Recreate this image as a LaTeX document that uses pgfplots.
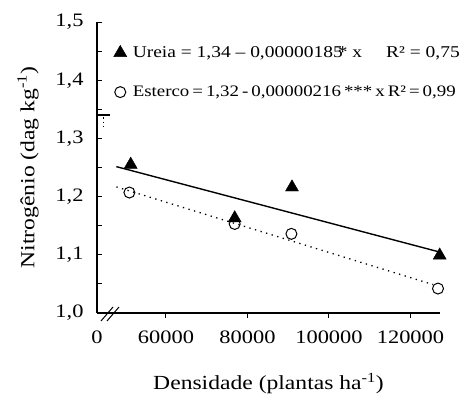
\documentclass[border=0pt]{standalone}
\usepackage{fontspec}
\setmainfont{Liberation Serif}[FakeStretch=1.18]
\usepackage{pgfplots}
\pgfplotsset{compat=1.18}

\begin{document}
\begin{tikzpicture}
\begin{axis}[
  name=ax,
  scale only axis, width=343pt, height=291pt,
  xmin=43070, xmax=127240, ymin=1, ymax=1.5,
  axis lines*=left,
  axis line style={line width=1.2pt},
  clip=false,
  font=\fontsize{19}{22}\selectfont,
  /pgf/number format/assume math mode=true,
  /pgf/number format/1000 sep={},
  scaled x ticks=false,
  xtick={60000,80000,100000,120000},
  extra x ticks={43070}, extra x tick labels={0},
  extra x tick style={major tick length=0pt},
  ytick={1,1.1,1.2,1.3,1.4,1.5}, minor y tick num=1,
  yticklabel style={/pgf/number format/use comma, /pgf/number format/fixed,
    /pgf/number format/fixed zerofill, /pgf/number format/precision=1, xshift=-10pt},
  tick align=inside,
  major tick length=5pt, minor tick length=5pt,
  tick style={line width=1pt, black},
  x tick style={yshift=-5pt},
  xticklabel style={/pgf/number format/fixed, /pgf/number format/precision=0, yshift=-14pt},
  xlabel={Densidade (plantas ha\textsuperscript{-1})},
  ylabel={Nitrogênio (dag kg\textsuperscript{-1})},
  xlabel style={font=\fontsize{20}{22}\selectfont, yshift=-23pt},
  ylabel style={font=\fontsize{20}{22}\selectfont, yshift=10pt},
  legend style={at={(axis cs:46400,1.465)}, anchor=north west, draw=none, fill=none,
    font=\fontsize{16.5}{19}\selectfont, row sep=23pt,
    /tikz/every odd column/.append style={column sep=4pt}},
  legend cell align=left,
]
% regression lines
\addplot[forget plot, black, line width=1.4pt] coordinates {(47830,1.2515) (127165,1.1047)};
\addplot[forget plot, black, line width=1.3pt, dash pattern=on 1.3pt off 4.5pt] coordinates {(47830,1.2167) (125500,1.0489)};
% fragments near the axis break
\addplot[forget plot, black, line width=1.4pt] coordinates {(43070,1.34) (46260,1.34)};
\addplot[forget plot, black, line width=1.3pt, dash pattern=on 1.3pt off 3pt] coordinates {(44600,1.336) (44600,1.318)};
% data
\addplot[only marks, mark=triangle*, mark size=7.5pt, black] coordinates {
(51340,1.255) (76860,1.163) (90920,1.216) (127165,1.099)};
\addlegendentry{Ureia = 1,34 – 0,00000185\kern-0.3em*\ x\hspace{24pt}R² = 0,75}
\addplot[only marks, mark=o, mark size=5.5pt, black, line width=1pt, fill=white, mark options={fill=white}] coordinates {
(51020,1.207) (76860,1.153) (90780,1.136) (126750,1.042)};
\addlegendentry{\fontsize{16}{19}\selectfont\spaceskip=3pt Esterco = 1,32 - 0,00000216 *** x\hspace{3pt}R² = 0,99}
% axis break
\draw[line width=1pt] ([shift={(4pt,-8pt)}]rel axis cs:0,0) -- ++(12pt,14pt);
\draw[line width=1pt] ([shift={(10pt,-8pt)}]rel axis cs:0,0) -- ++(12pt,14pt);
\end{axis}
\pgfresetboundingbox
\useasboundingbox ([shift={(-97pt,-90pt)}]ax.south west) rectangle ([shift={(25pt,22pt)}]ax.north east);
\end{tikzpicture}
\end{document}
